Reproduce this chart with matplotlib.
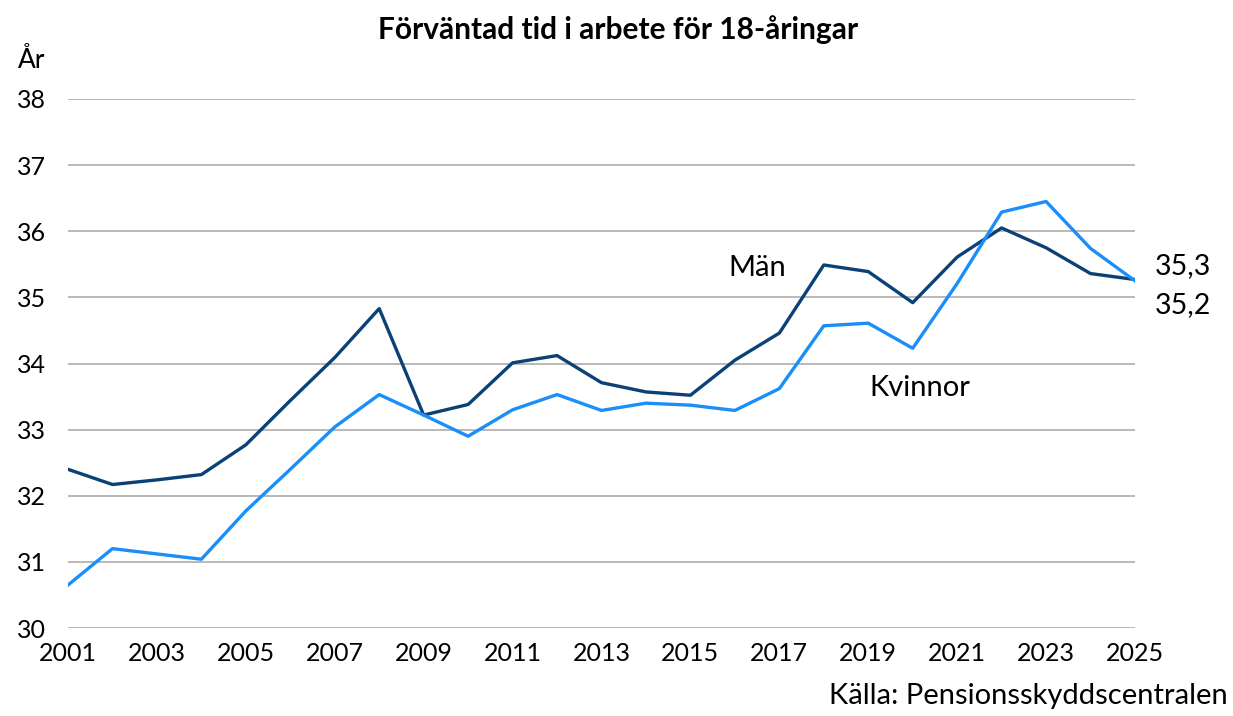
import matplotlib.pyplot as plt

plt.rcParams['font.family'] = ['Lato', 'DejaVu Sans']

years = list(range(2001, 2026))
man = [32.40, 32.17, 32.24, 32.32, 32.77, 33.44, 34.09, 34.83, 33.22, 33.38,
       34.01, 34.12, 33.71, 33.57, 33.52, 34.05, 34.46, 35.49, 35.39, 34.92,
       35.61, 36.05, 35.75, 35.36, 35.27]
kvinnor = [30.65, 31.20, 31.12, 31.04, 31.77, 32.40, 33.04, 33.53, 33.22, 32.90,
           33.30, 33.53, 33.29, 33.40, 33.37, 33.29, 33.62, 34.57, 34.61, 34.23,
           35.21, 36.29, 36.45, 35.74, 35.25]
x_ticks = list(range(2001, 2026, 2))
y_ticks = list(range(30, 39))

fig = plt.figure(figsize=(12.33, 7.16), dpi=100)
ax = fig.add_axes([68/1233, 88/716, (1135-68)/1233, (628-99)/716])

ax.plot(years, man, color='#0B4175', lw=2.4, solid_joinstyle='round')
ax.plot(years, kvinnor, color='#1A8FFA', lw=2.4, solid_joinstyle='round')

ax.set_xlim(2001, 2025)
ax.set_ylim(30, 38)
ax.set_yticks(y_ticks)
ax.set_xticks(x_ticks)
ax.grid(axis='y', color='#A6A6A6', lw=1.1)
ax.set_axisbelow(True)
for s in ax.spines.values():
    s.set_visible(False)
ax.tick_params(length=0, labelsize=18, pad=8)
ax.tick_params(axis='x', pad=10)
ax.tick_params(axis='y', pad=16)

# rubriker och etiketter
fig.text(618/1233, 1-30/716, 'Förväntad tid i arbete för 18-åringar',
         ha='center', va='center', fontsize=21.5, fontweight='bold')
fig.text(18/1233, 1-60/716, 'År', ha='left', va='center', fontsize=19)
fig.text(1228/1233, 1-696/716, 'Källa: Pensionsskyddscentralen',
         ha='right', va='center', fontsize=21)

ax.text(2016.5, 35.44, 'Män', ha='center', va='center', fontsize=21)
ax.text(2020.15, 33.63, 'Kvinnor', ha='center', va='center', fontsize=21)
ax.text(2025.45, 35.47, '35,3', ha='left', va='center', fontsize=20.5, clip_on=False)
ax.text(2025.45, 34.88, '35,2', ha='left', va='center', fontsize=20.5, clip_on=False)

fig.savefig('out.png', dpi=100)
